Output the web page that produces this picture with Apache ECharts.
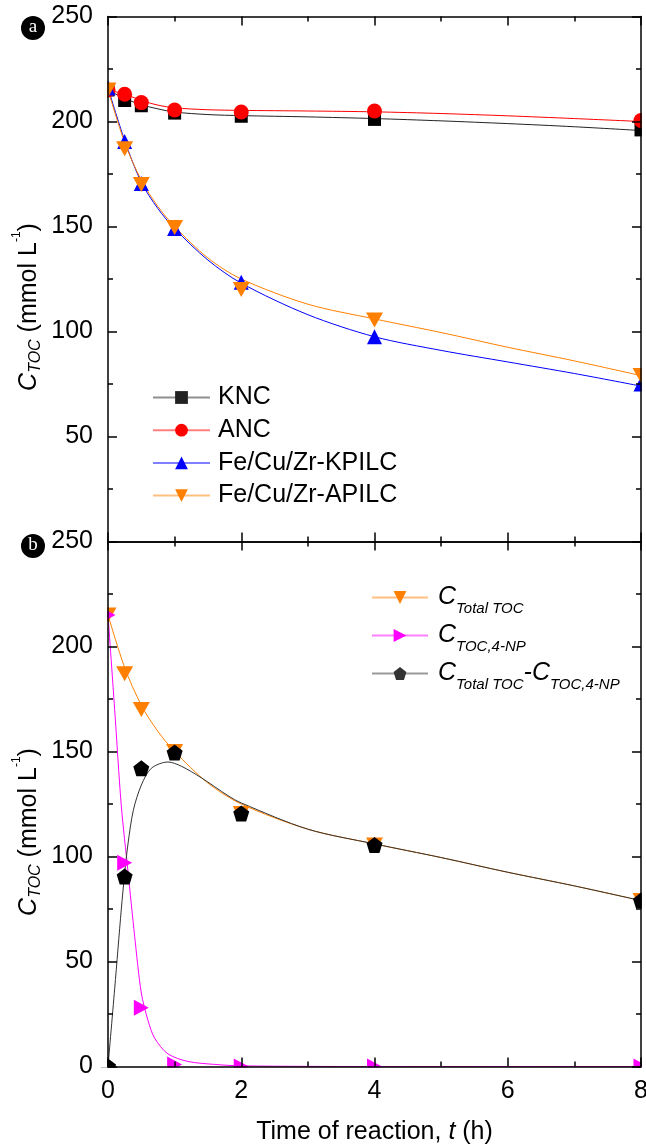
<!DOCTYPE html>
<html>
<head>
<meta charset="utf-8">
<script src="https://cdn.jsdelivr.net/npm/echarts@6/dist/echarts.min.js"></script>
<style>
html,body{margin:0;padding:0;background:#fff;}
#chart{width:646px;height:1147px;}
</style>
</head>
<body>
<div id="chart"></div>
<script>
// measured points (t in h, C_TOC in mmol/L)
var tPoints = [0, 0.25, 0.5, 1, 2, 4, 8];
var knc = [215, 210, 207.5, 204, 202.5, 201, 196];
var anc = [215, 213, 209, 205.5, 204.5, 205, 200.5];
var kpilc = [216, 190.5, 170.5, 149, 123.5, 97.5, 75];
var apilc = [215, 187, 170, 149.5, 120, 105.5, 79];
var tocTotal = [215, 187, 170, 150, 120.5, 105.5, 79];
var toc4np = [215, 97, 28, 1, 0, 0, 0];
var tocDiff = [0, 90.5, 142, 149.5, 120.5, 105.5, 79];

// fitted curves
var fitT = [0, 0.25, 0.5, 0.75, 1, 1.5, 2, 3, 4, 5, 6, 7, 8];
var kncFit = [215, 211, 208, 206, 204.5, 203.3, 202.8, 202.2, 201.4, 200.3, 199, 197.5, 195.7];
var ancFit = [215, 213, 210, 207.8, 206.5, 205.6, 205.3, 205, 204.6, 203.8, 202.7, 201.4, 200];
var kpilcFit = [216, 191, 171, 158.5, 149, 134, 123, 108, 97.5, 91, 85.5, 80, 74];
var apilcFit = [215, 190, 172, 159.5, 150, 135, 125, 113, 106, 99.5, 92.5, 86, 79];
var npFitT = [0, 0.1, 0.2, 0.3, 0.4, 0.5, 0.6, 0.7, 0.9, 1.2, 1.6, 2, 4, 8];
var npFit = [215, 170, 124, 93, 62, 35, 22, 13.5, 6, 2.4, 1, 0.3, 0, 0];
var diffFitT = [0, 0.1, 0.2, 0.25, 0.3, 0.38, 0.5, 0.65, 0.9, 1.1, 1.4, 1.8, 2, 3, 4, 5, 6, 7, 8];
var diffFit = [0, 37, 75, 92, 106, 122, 134, 142, 145, 143, 137.5, 129, 125.5, 113, 106, 99.5, 92.5, 86, 79];

var FONT = 'Liberation Sans';
var ORANGE = '#ff8000';
var PENTAGON = 'path://M0,-1L0.951,-0.309L0.588,0.809L-0.588,0.809L-0.951,-0.309Z';
var DOWN_TRI = 'path://M0,0L2,0L1,1.732Z';
var RIGHT_TRI = 'path://M0,0L1.732,1L0,2Z';

function pairs(xs, ys) {
    return xs.map(function (x, i) { return [x, ys[i]]; });
}

var tickLine = {color: '#000', width: 1.5};

function xAxis(grid, pos, labels) {
    return {
        type: 'value', gridIndex: grid, position: pos, min: 0, max: 8, interval: 2, z: 20,
        axisLine: {onZero: false, lineStyle: tickLine},
        axisTick: {inside: true, length: 9, lineStyle: tickLine},
        minorTick: {show: true, splitNumber: 2, length: 5, lineStyle: tickLine},
        splitLine: {show: false},
        axisLabel: {show: labels, fontFamily: FONT, fontSize: 25, color: '#000', margin: 12},
        name: labels ? '{n|Time of reaction, }{i|t}{n| (h)}' : '',
        nameLocation: 'middle', nameGap: 52,
        nameTextStyle: {rich: {
            n: {fontFamily: FONT, fontSize: 25, color: '#000', lineHeight: 28},
            i: {fontFamily: FONT, fontSize: 25, color: '#000', fontStyle: 'italic', lineHeight: 28}
        }}
    };
}

function yAxis(grid, pos, labels, hideZero) {
    return {
        type: 'value', gridIndex: grid, position: pos, min: 0, max: 250, interval: 50, z: 20,
        axisLine: {onZero: false, lineStyle: tickLine},
        axisTick: {inside: true, length: 9, lineStyle: tickLine},
        minorTick: {show: true, splitNumber: 2, length: 5, lineStyle: tickLine},
        splitLine: {show: false},
        axisLabel: {
            show: labels, fontFamily: FONT, fontSize: 25, color: '#000', margin: 15,
            formatter: function (v) { return (hideZero && v === 0) ? '' : v; }
        },
        name: labels ? '{c|C}{s|TOC}{n| (mmol L}{p|-1}{n|)}' : '',
        nameLocation: 'middle', nameRotate: 90, nameGap: 60, nameMoveOverlap: false,
        nameTextStyle: {
            padding: [0, 56, 0, 0],
            rich: {
                c: {fontFamily: FONT, fontSize: 25, color: '#000', fontStyle: 'italic', lineHeight: 30},
                n: {fontFamily: FONT, fontSize: 25, color: '#000', lineHeight: 30},
                s: {fontFamily: FONT, fontSize: 16, color: '#000', fontStyle: 'italic', padding: [12, 0, 0, 0]},
                p: {fontFamily: FONT, fontSize: 12, color: '#000', padding: [0, 0, 25, 0]}
            }
        }
    };
}

function fitLine(name, xi, yi, xs, ys, color, symbol, size, z) {
    return {
        name: name, type: 'line', xAxisIndex: xi, yAxisIndex: yi,
        data: pairs(xs, ys), smooth: 0.3, showSymbol: false,
        symbol: symbol, symbolSize: size,
        lineStyle: {color: color, width: 1}, itemStyle: {color: color},
        z: z, silent: true
    };
}

function points(xi, yi, ys, color, symbol, size, z) {
    return {
        type: 'scatter', xAxisIndex: xi, yAxisIndex: yi,
        data: pairs(tPoints, ys), symbol: symbol, symbolSize: size,
        itemStyle: {color: color, opacity: 1}, z: z, silent: true
    };
}

// white strips just outside the frame so edge markers look clipped
function mask(x, y, w, h) {
    return {type: 'rect', z: 10, silent: true, shape: {x: x, y: y, width: w, height: h}, style: {fill: '#fff'}};
}

var chart = echarts.init(document.getElementById('chart'), null, {renderer: 'canvas'});
chart.setOption({
    animation: false,
    backgroundColor: '#fff',
    grid: [
        {left: 108, right: 5, top: 16.5, height: 525, outerBoundsMode: 'none'},
        {left: 108, right: 5, top: 541.5, height: 525, outerBoundsMode: 'none'}
    ],
    xAxis: [xAxis(0, 'bottom', false), xAxis(0, 'top', false), xAxis(1, 'bottom', true), xAxis(1, 'top', false)],
    yAxis: [yAxis(0, 'left', true, true), yAxis(0, 'right', false), yAxis(1, 'left', true, false), yAxis(1, 'right', false)],
    legend: [
        {
            left: 147, top: 380, orient: 'vertical', itemWidth: 57, itemHeight: 16, itemGap: 7.7,
            data: ['KNC', 'ANC', 'Fe/Cu/Zr-KPILC', 'Fe/Cu/Zr-APILC'],
            selectedMode: false,
            lineStyle: {opacity: 0.5},
            formatter: function (n) { return '{t|' + n + '}'; },
            textStyle: {rich: {t: {fontFamily: FONT, fontSize: 25, color: '#000', lineHeight: 24, padding: [0, 0, 0, 3]}}}
        },
        {
            left: 366, top: 580, orient: 'vertical', itemWidth: 56, itemHeight: 16, itemGap: 7,
            data: ['total', 'np', 'diff'],
            selectedMode: false,
            lineStyle: {opacity: 0.5},
            formatter: function (n) {
                if (n === 'total') return '{g|}{c|C}{s|Total TOC}';
                if (n === 'np') return '{g|}{c|C}{s|TOC,4-NP}';
                return '{g|}{c|C}{s|Total TOC}{c|-C}{s|TOC,4-NP}';
            },
            textStyle: {rich: {
                g: {width: 5},
                c: {fontFamily: FONT, fontSize: 25, color: '#000', fontStyle: 'italic', lineHeight: 38},
                s: {fontFamily: FONT, fontSize: 15, color: '#000', fontStyle: 'italic', padding: [22, 0, 0, 0]}
            }}
        }
    ],
    graphic: [
        mask(94, 0, 13.2, 1067.5),
        mask(641.8, 0, 10, 1080),
        mask(94, 1067.6, 560, 9.5),
        {type: 'circle', shape: {cx: 33, cy: 28, r: 12}, style: {fill: '#000'}},
        {type: 'text', x: 33, y: 27, style: {text: 'a', fill: '#fff', font: '19px "Liberation Serif"', align: 'center', verticalAlign: 'middle'}},
        {type: 'circle', shape: {cx: 33, cy: 546, r: 12}, style: {fill: '#000'}},
        {type: 'text', x: 33, y: 545, style: {text: 'b', fill: '#fff', font: '19px "Liberation Serif"', align: 'center', verticalAlign: 'middle'}}
    ],
    series: [
        fitLine('KNC', 0, 0, fitT, kncFit, '#222', 'rect', 13, 2),
        fitLine('ANC', 0, 0, fitT, ancFit, '#ff0000', 'circle', 14, 2),
        fitLine('Fe/Cu/Zr-KPILC', 0, 0, fitT, kpilcFit, '#0000ff', 'triangle', 14, 2),
        fitLine('Fe/Cu/Zr-APILC', 0, 0, fitT, apilcFit, ORANGE, DOWN_TRI, 14, 2),
        points(0, 0, knc, '#000', 'rect', 13, 3),
        points(0, 0, anc, '#ff0000', 'circle', 15, 4),
        points(0, 0, kpilc, '#0000ff', 'triangle', 15, 5),
        points(0, 0, apilc, ORANGE, DOWN_TRI, [17, 15], 6),

        fitLine('total', 2, 2, fitT, apilcFit, ORANGE, DOWN_TRI, 14, 2),
        fitLine('np', 2, 2, npFitT, npFit, '#ff00ff', RIGHT_TRI, 14, 2),
        fitLine('diff', 2, 2, diffFitT, diffFit, '#333', PENTAGON, 14, 2),
        points(2, 2, tocTotal, ORANGE, DOWN_TRI, [17, 15], 3),
        points(2, 2, toc4np, '#ff00ff', RIGHT_TRI, [15, 16], 4),
        points(2, 2, tocDiff, '#000', PENTAGON, 16, 5)
    ]
});
</script>
</body>
</html>
